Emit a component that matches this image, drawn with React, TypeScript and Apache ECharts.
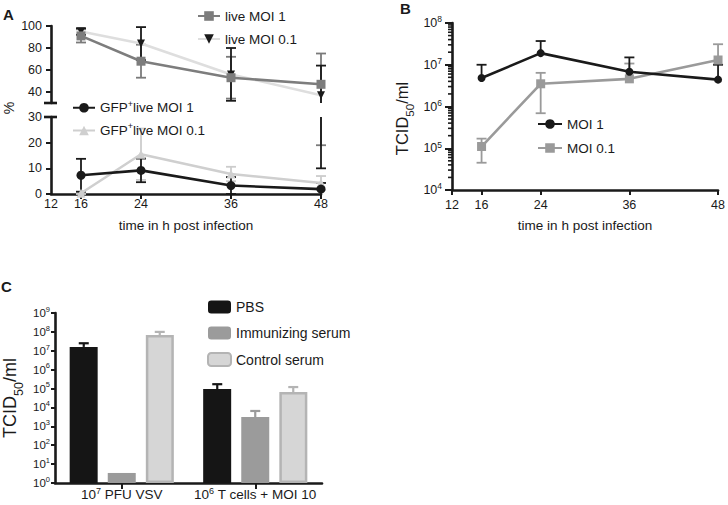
import React, { useEffect, useRef } from "react";
import * as echarts from "echarts";

const FONT = "'Liberation Sans', Arial, Helvetica, sans-serif";
const INK = "#1a1a1a";

// ---------- Panel A ----------
const hoursA = [16, 24, 36, 48];
const liveMoi1 = [91, 68, 53, 47];
const liveMoi1Err = [6, 15, 19, 28];
const liveMoi01 = [95, 84, 56, 37];
const liveMoi01Err = [3, 15, 24, 27];
const gfpMoi1 = [7.3, 9.2, 3.3, 1.9];
const gfpMoi1Err = [6.4, 4.6, 3.3, 2.4];
const gfpMoi01 = [0.3, 15.5, 7.8, 4.3];
const gfpMoi01Err = [0.3, 10, 2.8, 2.7];
const timeLabels = [12, 16, 24, 36, 48];
const timeTicksA = [16, 24, 36, 48];
const upperLabels = [40, 60, 80, 100];

// ---------- Panel B ----------
const hoursB = [16, 24, 36, 48];
const bMoi1 = [4.8e6, 1.9e7, 6.8e6, 4.4e6];
const bMoi1Hi = [1.0e7, 3.7e7, 1.5e7, 1.0e7];
const bMoi01 = [1.1e5, 3.5e6, 4.6e6, 1.3e7];
const bMoi01Lo = [4.5e4, 6.9e5, 4.6e6, 1.3e7];
const bMoi01Hi = [1.7e5, 6.4e6, 1.07e7, 3.1e7];
const bMinorDecades = [4, 5, 6, 7];
const bMinorSteps = [2, 3, 4, 5, 6, 7, 8, 9];

// ---------- Panel C ----------
const groupsC = ["10^7 PFU VSV", "10^6 T cells + MOI 10"];
const pbs = [1.6e7, 9.4e4];
const pbsHi = [2.5e7, 1.7e5];
const immunizing = [3.4, 3.1e3];
const immunizingHi = [3.4, 6.5e3];
const control = [6.8e7, 6.5e4];
const controlHi = [1.0e8, 1.2e5];

type Row = [number, number, number, number];

function rowsSym(xs: number[], vals: number[], errs: number[]): Row[] {
  return xs.map((x, i) => [x, vals[i], vals[i] - errs[i], vals[i] + errs[i]]);
}
function rowsLoHi(xs: number[], vals: number[], lo: number[], hi: number[]): Row[] {
  return xs.map((x, i) => [x, vals[i], lo[i], hi[i]]);
}

function errorSeries(rows: Row[], color: string, opt: any) {
  const { xAxisIndex, yAxisIndex, range, offset = 0, cap = 5, lw = 1.8, z = 2 } = opt;
  return {
    type: "custom",
    xAxisIndex,
    yAxisIndex,
    z,
    silent: true,
    clip: false,
    data: rows,
    renderItem: (_p: any, api: any) => {
      const x = api.value(0);
      const v = api.value(1);
      let lo = api.value(2);
      let hi = api.value(3);
      let capLo = lo < v;
      let capHi = hi > v;
      if (range) {
        if (lo < range[0]) { lo = range[0]; capLo = false; }
        if (hi > range[1]) { hi = range[1]; capHi = false; }
        if (lo >= hi) return null;
      }
      const a = api.coord([x, lo]);
      const b = api.coord([x, hi]);
      const cx = a[0] + offset;
      const st = { stroke: color, lineWidth: lw };
      const children: any[] = [
        { type: "line", shape: { x1: cx, y1: a[1], x2: cx, y2: b[1] }, style: st },
      ];
      if (capHi) children.push({ type: "line", shape: { x1: cx - cap, y1: b[1], x2: cx + cap, y2: b[1] }, style: st });
      if (capLo) children.push({ type: "line", shape: { x1: cx - cap, y1: a[1], x2: cx + cap, y2: a[1] }, style: st });
      return { type: "group", children };
    },
  };
}

const txt = (size: number, extra: any = {}) => ({ fontFamily: FONT, fontSize: size, color: INK, ...extra });

const supRich = (base: number, sup: number) => ({
  b: { fontFamily: FONT, fontSize: base, lineHeight: base + 4, color: INK },
  s: { fontFamily: FONT, fontSize: sup, lineHeight: sup, verticalAlign: "top", color: INK },
});

const tcidName = "{b|TCID}{u|50}{b|/ml}";
const tcidRich = (base: number, sub: number) => ({
  b: { fontFamily: FONT, fontSize: base, lineHeight: base + 6, verticalAlign: "top", color: INK },
  u: { fontFamily: FONT, fontSize: sub, lineHeight: sub, verticalAlign: "bottom", color: INK },
});

const axisLine = { show: true, onZero: false, lineStyle: { color: INK, width: 2.6 } };
const axisTick = { show: true, length: 5, lineStyle: { color: INK, width: 2 } };

const logLabel = (v: number) => `{b|10}{s|${Math.round(Math.log10(v))}}`;

const minorRows = bMinorDecades.flatMap((d) => bMinorSteps.map((m) => [12, m * Math.pow(10, d)]));

const option: any = {
  animation: false,
  textStyle: { fontFamily: FONT },
  grid: [
    { left: 51, top: 26, width: 270, height: 77 },
    { left: 51, top: 117, width: 270, height: 77 },
    { left: 452, top: 23, width: 270, height: 167 },
    { left: 55, top: 313, width: 267, height: 170 },
  ],
  xAxis: [
    { type: "value", gridIndex: 0, min: 12, max: 48, show: false },
    {
      type: "value", gridIndex: 1, min: 12, max: 48,
      axisLine, splitLine: { show: false },
      axisTick: { ...axisTick, customValues: timeTicksA },
      axisLabel: { customValues: timeLabels, margin: 3, ...txt(12.5) },
      name: "time in h post infection", nameLocation: "middle", nameGap: 24,
      nameTextStyle: txt(13.5),
    },
    {
      type: "value", gridIndex: 2, min: 12, max: 48,
      axisLine, splitLine: { show: false },
      axisTick: { ...axisTick, customValues: timeLabels },
      axisLabel: { customValues: timeLabels, margin: 8, ...txt(12.5) },
      name: "time in h post infection", nameLocation: "middle", nameGap: 28,
      nameTextStyle: txt(13.5),
    },
    {
      type: "category", gridIndex: 3, data: groupsC,
      axisLine, splitLine: { show: false },
      axisTick: { ...axisTick, alignWithLabel: true, length: 6 },
      axisLabel: {
        margin: 3, interval: 0,
        formatter: (s: string) => {
          const m = s.match(/^10\^(\d+)(.*)$/);
          return m ? `{b|10}{s|${m[1]}}{b|${m[2]}}` : s;
        },
        rich: supRich(13.5, 9),
      },
    },
  ],
  yAxis: [
    {
      type: "value", gridIndex: 0, min: 30, max: 100,
      axisLine, splitLine: { show: false },
      axisTick: { ...axisTick, customValues: upperLabels },
      axisLabel: { customValues: upperLabels, margin: 9, ...txt(12.5) },
    },
    {
      type: "value", gridIndex: 1, min: 0, max: 30, interval: 10,
      axisLine, splitLine: { show: false }, axisTick,
      axisLabel: { margin: 9, ...txt(12.5) },
    },
    {
      type: "log", logBase: 10, gridIndex: 2, min: 1e4, max: 1e8,
      axisLine, splitLine: { show: false },
      axisTick: { ...axisTick, length: 7 },
      axisLabel: { margin: 10, formatter: logLabel, rich: supRich(12.5, 8.5) },
      name: tcidName, nameLocation: "middle", nameGap: 36,
      nameTextStyle: { rich: tcidRich(16.5, 11.5), padding: [0, 24, 0, 0] },
    },
    {
      type: "log", logBase: 10, gridIndex: 3, min: 1, max: 1e9,
      axisLine, splitLine: { show: false },
      axisTick: { ...axisTick, length: 4 },
      axisLabel: { margin: 5, formatter: logLabel, rich: supRich(11.5, 7.5) },
      name: tcidName, nameLocation: "middle", nameGap: 30,
      nameTextStyle: { rich: tcidRich(18, 12.5) },
    },
  ],
  legend: [
    {
      data: ["live MOI 1", "live MOI 0.1"], orient: "vertical", left: 197, top: 9, padding: 0,
      itemWidth: 22, itemHeight: 12, itemGap: 9, selectedMode: false,
      textStyle: txt(13.5),
    },
    {
      data: ["GFP+live MOI 1", "GFP+live MOI 0.1"], orient: "vertical", left: 72, top: 99, padding: 0,
      itemWidth: 22, itemHeight: 12, itemGap: 7, selectedMode: false,
      formatter: (n: string) => n.replace("GFP+", "{b|GFP}{s|+}{b|").concat("}"),
      textStyle: { ...txt(13.5), rich: supRich(13.5, 9) },
    },
    {
      data: ["MOI 1", "MOI 0.1"], orient: "vertical", left: 537, top: 117, padding: 0,
      itemWidth: 24, itemHeight: 12, itemGap: 10, selectedMode: false,
      textStyle: txt(13.5),
    },
    {
      data: ["PBS", "Immunizing serum", "Control serum"], orient: "vertical", left: 207, top: 300, padding: 0,
      itemWidth: 23, itemHeight: 13, itemGap: 12, selectedMode: false,
      textStyle: txt(14),
    },
  ],
  series: [
    // ---- Panel A, upper ----
    errorSeries(rowsSym(hoursA, liveMoi1, liveMoi1Err), "#7a7a7a", { xAxisIndex: 0, yAxisIndex: 0, range: [30, 100] }),
    errorSeries(rowsSym(hoursA, liveMoi01, liveMoi01Err), INK, { xAxisIndex: 0, yAxisIndex: 0, range: [30, 100] }),
    {
      name: "live MOI 0.1", type: "line", xAxisIndex: 0, yAxisIndex: 0,
      data: hoursA.map((h, i) => [h, liveMoi01[i]]),
      lineStyle: { color: "#dedede", width: 2.6 }, itemStyle: { color: INK },
      symbol: "triangle", symbolRotate: 180, symbolSize: 8, z: 3,
    },
    {
      name: "live MOI 1", type: "line", xAxisIndex: 0, yAxisIndex: 0,
      data: hoursA.map((h, i) => [h, liveMoi1[i]]),
      lineStyle: { color: "#7d7d7d", width: 2.6 }, itemStyle: { color: "#7d7d7d" },
      symbol: "rect", symbolSize: 9, z: 4,
    },
    // ---- Panel A, lower ----
    errorSeries(rowsSym(hoursA, liveMoi1, liveMoi1Err), "#7a7a7a", { xAxisIndex: 1, yAxisIndex: 1, range: [0, 30] }),
    errorSeries(rowsSym(hoursA, liveMoi01, liveMoi01Err), INK, { xAxisIndex: 1, yAxisIndex: 1, range: [0, 30] }),
    errorSeries(rowsSym(hoursA, gfpMoi01, gfpMoi01Err), "#cccccc", { xAxisIndex: 1, yAxisIndex: 1, range: [0, 30] }),
    errorSeries(rowsSym(hoursA, gfpMoi1, gfpMoi1Err), INK, { xAxisIndex: 1, yAxisIndex: 1, range: [0, 30] }),
    {
      name: "GFP+live MOI 0.1", type: "line", xAxisIndex: 1, yAxisIndex: 1,
      data: hoursA.map((h, i) => [h, gfpMoi01[i]]),
      lineStyle: { color: "#cfcfcf", width: 2.6 }, itemStyle: { color: "#cfcfcf" },
      symbol: "triangle", symbolSize: 9, z: 3,
    },
    {
      name: "GFP+live MOI 1", type: "line", xAxisIndex: 1, yAxisIndex: 1,
      data: hoursA.map((h, i) => [h, gfpMoi1[i]]),
      lineStyle: { color: INK, width: 2.6 }, itemStyle: { color: INK },
      symbol: "circle", symbolSize: 9, z: 4,
    },
    // ---- Panel B ----
    {
      type: "custom", xAxisIndex: 2, yAxisIndex: 2, silent: true, clip: false, z: 5,
      data: minorRows,
      renderItem: (_p: any, api: any) => {
        const p = api.coord([api.value(0), api.value(1)]);
        return { type: "line", shape: { x1: p[0] - 4, y1: p[1], x2: p[0], y2: p[1] }, style: { stroke: INK, lineWidth: 1.6 } };
      },
    },
    errorSeries(rowsLoHi(hoursB, bMoi01, bMoi01Lo, bMoi01Hi), "#9a9a9a", { xAxisIndex: 2, yAxisIndex: 2 }),
    errorSeries(rowsLoHi(hoursB, bMoi1, bMoi1, bMoi1Hi), INK, { xAxisIndex: 2, yAxisIndex: 2 }),
    {
      name: "MOI 0.1", type: "line", xAxisIndex: 2, yAxisIndex: 2,
      data: hoursB.map((h, i) => [h, bMoi01[i]]),
      lineStyle: { color: "#9a9a9a", width: 2.6 }, itemStyle: { color: "#9a9a9a" },
      symbol: "rect", symbolSize: 9, z: 3,
    },
    {
      name: "MOI 1", type: "line", xAxisIndex: 2, yAxisIndex: 2,
      data: hoursB.map((h, i) => [h, bMoi1[i]]),
      lineStyle: { color: INK, width: 2.6 }, itemStyle: { color: INK },
      symbol: "circle", symbolSize: 8, z: 4,
    },
    // ---- Panel C ----
    {
      name: "PBS", type: "bar", xAxisIndex: 3, yAxisIndex: 3, data: pbs,
      barWidth: 28, barGap: "36%", itemStyle: { color: "#151515" },
    },
    {
      name: "Immunizing serum", type: "bar", xAxisIndex: 3, yAxisIndex: 3, data: immunizing,
      barWidth: 28, barGap: "36%", itemStyle: { color: "#9b9b9b" },
    },
    {
      name: "Control serum", type: "bar", xAxisIndex: 3, yAxisIndex: 3, data: control,
      barWidth: 28, barGap: "36%",
      itemStyle: { color: "#d6d6d6", borderColor: "#b4b4b4", borderWidth: 2.5 },
    },
    errorSeries(groupsC.map((_, i) => [i, pbs[i], pbs[i], pbsHi[i]] as Row), "#151515", { xAxisIndex: 3, yAxisIndex: 3, offset: -38, lw: 2.2, z: 1 }),
    errorSeries(groupsC.map((_, i) => [i, immunizing[i], immunizing[i], immunizingHi[i]] as Row), "#9b9b9b", { xAxisIndex: 3, yAxisIndex: 3, offset: 0, lw: 2.2, z: 1 }),
    errorSeries(groupsC.map((_, i) => [i, control[i], control[i], controlHi[i]] as Row), "#b4b4b4", { xAxisIndex: 3, yAxisIndex: 3, offset: 38, lw: 2.2, z: 1 }),
  ],
  graphic: [
    { type: "text", x: 3, y: 7, style: { text: "A", fontFamily: FONT, fontSize: 15, fontWeight: "bold", fill: INK } },
    { type: "text", x: 400, y: 1, style: { text: "B", fontFamily: FONT, fontSize: 15, fontWeight: "bold", fill: INK } },
    { type: "text", x: 1, y: 279, style: { text: "C", fontFamily: FONT, fontSize: 15, fontWeight: "bold", fill: INK } },
    {
      type: "text", x: 9, y: 108, rotation: Math.PI / 2,
      style: { text: "%", fontFamily: FONT, fontSize: 14, fill: INK, align: "center", verticalAlign: "middle" },
    },
  ],
};

export default function App() {
  const ref = useRef<HTMLDivElement>(null);
  useEffect(() => {
    document.body.style.margin = "0";
    const chart = echarts.init(ref.current!, null, { renderer: "svg" });
    chart.setOption(option);
    const up = chart.convertToPixel({ gridIndex: 0 }, [12, 30]) as number[];
    const lo = chart.convertToPixel({ gridIndex: 1 }, [12, 30]) as number[];
    const brk = (p: number[]) => ({
      type: "line",
      shape: { x1: p[0] - 7, y1: p[1], x2: p[0] + 6, y2: p[1] },
      style: { stroke: INK, lineWidth: 2.6 },
      z: 10,
    });
    chart.setOption({ graphic: [...option.graphic, brk(up), brk(lo)] });
    return () => chart.dispose();
  }, []);
  return <div ref={ref} style={{ width: 728, height: 505 }} />;
}
